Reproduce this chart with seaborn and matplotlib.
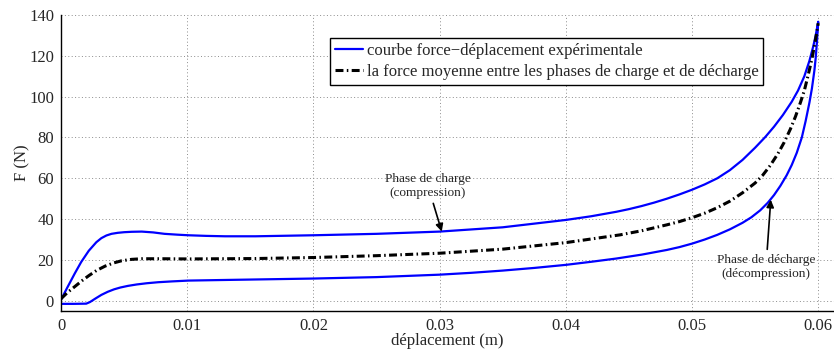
import numpy as np
import pandas as pd
import matplotlib
matplotlib.use("Agg")
import matplotlib.pyplot as plt
import seaborn as sns

# ---- data ----
# loading phase (compression), x ascending
x_load = [0.0000, 0.0005, 0.0011, 0.0016, 0.0022, 0.0028, 0.0032, 0.0036, 0.0040,
          0.0045, 0.0050, 0.0056, 0.0064, 0.0073, 0.0082, 0.0092, 0.0101, 0.0115,
          0.0130, 0.0154, 0.0200, 0.0250, 0.0300, 0.0350, 0.0400, 0.0420, 0.0440,
          0.0450, 0.0460, 0.0470, 0.0480, 0.0490, 0.0500, 0.0510, 0.0520, 0.0530,
          0.0540, 0.0550, 0.0558, 0.0565, 0.0572, 0.0579, 0.0584, 0.0589, 0.0593,
          0.0596, 0.0598, 0.0600]
f_load = [0.5, 6.5, 13.5, 19.0, 24.5, 28.7, 30.7, 32.0, 32.8,
          33.3, 33.6, 33.8, 33.9, 33.5, 32.8, 32.4, 32.1, 31.8,
          31.6, 31.6, 32.1, 32.8, 33.9, 36.0, 39.6, 41.4, 43.6,
          44.9, 46.4, 48.1, 50.0, 52.1, 54.4, 57.0, 60.0, 64.0,
          69.0, 75.0, 80.2, 85.3, 91.0, 97.5, 103.0, 110.0, 117.5,
          124.5, 130.0, 136.7]
# unloading phase (decompression), x descending
x_unload = [0.0600, 0.0599, 0.0598, 0.0597, 0.0595, 0.0593, 0.0590, 0.0587, 0.0583,
            0.0579, 0.0575, 0.0570, 0.0565, 0.0560, 0.0554, 0.0547, 0.0540, 0.0530,
            0.0520, 0.0510, 0.0500, 0.0490, 0.0480, 0.0460, 0.0440, 0.0420, 0.0400,
            0.0375, 0.0350, 0.0325, 0.0300, 0.0250, 0.0200, 0.0150, 0.0125, 0.0101,
            0.0088, 0.0077, 0.0068, 0.0060, 0.0053, 0.0047, 0.0042, 0.0037, 0.0032,
            0.0027, 0.0023, 0.0020, 0.0010, 0.0000]
f_unload = [136.7, 127.0, 119.0, 113.0, 104.0, 97.0, 88.0, 80.0, 72.5,
            66.5, 61.5, 56.3, 51.8, 48.0, 44.3, 40.9, 38.2, 35.0,
            32.3, 30.0, 28.0, 26.3, 24.9, 22.6, 20.7, 19.1, 17.6,
            16.1, 14.8, 13.7, 12.8, 11.6, 10.9, 10.4, 10.15, 9.9,
            9.5, 9.1, 8.6, 8.0, 7.3, 6.5, 5.6, 4.4, 2.9,
            1.0, -0.6, -1.4, -1.5, -1.5]
# mean force between loading and unloading
x_mean = [0.0000, 0.0005, 0.0011, 0.0017, 0.0022, 0.0028, 0.0035, 0.0042, 0.0048,
          0.0056, 0.0064, 0.0080, 0.0101, 0.0154, 0.0200, 0.0250, 0.0300, 0.0350,
          0.0400, 0.0443, 0.0460, 0.0480, 0.0490, 0.0500, 0.0510, 0.0520, 0.0530,
          0.0540, 0.0550, 0.0556, 0.0562, 0.0568, 0.0573, 0.0578, 0.0582, 0.0586,
          0.0589, 0.0592, 0.0595, 0.0597, 0.0599, 0.0600]
f_mean = [1.0, 4.0, 7.0, 10.0, 12.3, 14.8, 17.0, 18.6, 19.6,
          20.3, 20.6, 20.6, 20.5, 20.7, 21.2, 22.1, 23.3, 25.3,
          28.5, 32.3, 34.3, 37.2, 38.8, 40.7, 42.9, 45.6, 48.8,
          52.9, 57.7, 61.5, 66.3, 72.0, 77.6, 84.2, 90.3, 97.3,
          103.0, 110.5, 118.5, 125.0, 132.0, 136.0]

x_ticks = [0, 0.01, 0.02, 0.03, 0.04, 0.05, 0.06]
x_ticklabels = ["0", "0.01", "0.02", "0.03", "0.04", "0.05", "0.06"]
y_ticks = [0, 20, 40, 60, 80, 100, 120, 140]

label_exp = "courbe force\u2212déplacement expérimentale"
label_mean = "la force moyenne entre les phases de charge et de décharge"

# ---- figure ----
sns.set_style("white")
plt.rcParams["font.family"] = ["Liberation Serif", "DejaVu Serif"]
plt.rcParams["axes.unicode_minus"] = True

fig = plt.figure(figsize=(8.34, 3.49), dpi=100)
ax = fig.add_axes([61 / 834, 1 - 311 / 349, 773 / 834, 296 / 349])

loop = pd.DataFrame({"x": x_load + x_unload, "F": f_load + f_unload})
mean_df = pd.DataFrame({"x": x_mean, "F": f_mean})

sns.lineplot(data=loop, x="x", y="F", sort=False, estimator=None, color="#0000ff",
             lw=1.6, ax=ax, label=label_exp)
sns.lineplot(data=mean_df, x="x", y="F", sort=False, estimator=None, color="black",
             lw=2.2, linestyle=(0, (2.6, 1.1, 0.5, 1.1)), ax=ax, label=label_mean)

ax.set_xlim(0, 0.06125)
ax.set_ylim(-5, 140)
ax.set_xticks(x_ticks)
ax.set_xticklabels(x_ticklabels)
ax.set_yticks(y_ticks)
ax.tick_params(direction="in", length=4, width=0.8, labelsize=12, color="black",
               top=False, right=False, pad=5)
ax.grid(True, linestyle=(0, (1, 2.5)), color="0.55", lw=0.7)
for s in ["top", "right"]:
    ax.spines[s].set_visible(False)
for s in ["left", "bottom"]:
    ax.spines[s].set_color("black")
    ax.spines[s].set_linewidth(1.0)

ax.set_xlabel("déplacement (m)", fontsize=12, labelpad=-1)
ax.set_ylabel("F (N)", fontsize=12, labelpad=-1)

leg = ax.legend(loc="upper left", bbox_to_anchor=(0.348, 0.922), borderaxespad=0,
                frameon=True, fancybox=False, edgecolor="black", framealpha=1,
                handlelength=1.65, handletextpad=0.25, labelspacing=0.3, fontsize=12,
                borderpad=0.3)
leg.get_frame().set_linewidth(1.0)

arrow = dict(arrowstyle="-|>", color="black", lw=1.2, shrinkA=1, shrinkB=0,
             mutation_scale=11)
ax.annotate("Phase de charge\n(compression)", xy=(0.03017, 33.9),
            xytext=(0.02908, 56.3), ha="center", va="center", fontsize=9.6,
            arrowprops=arrow)
ax.annotate("Phase de décharge\n(décompression)", xy=(0.05624, 49.5),
            xytext=(0.05586, 16.6), ha="center", va="center", fontsize=9.6,
            arrowprops=arrow)

fig.savefig("out.png", dpi=100)
